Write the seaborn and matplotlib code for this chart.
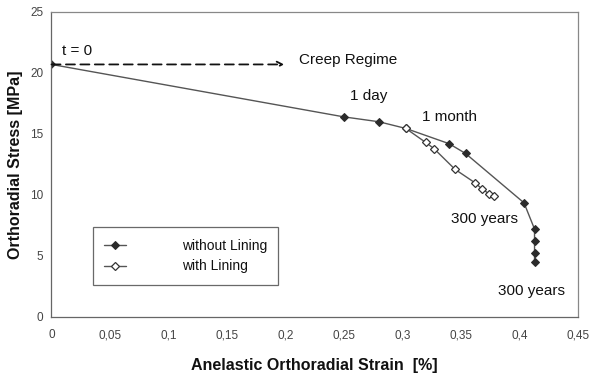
import matplotlib
matplotlib.use("Agg")
import matplotlib.pyplot as plt
import seaborn as sns
import pandas as pd

# data
x_without = [0.0, 0.250, 0.280, 0.303, 0.340, 0.354, 0.404, 0.413, 0.413, 0.413, 0.413]
y_without = [20.7, 16.4, 16.0, 15.45, 14.2, 13.4, 9.35, 7.2, 6.2, 5.2, 4.5]
x_with = [0.303, 0.320, 0.327, 0.345, 0.362, 0.368, 0.374, 0.378]
y_with = [15.45, 14.3, 13.8, 12.1, 11.0, 10.5, 10.1, 9.9]
x_ticks = [0, 0.05, 0.1, 0.15, 0.2, 0.25, 0.3, 0.35, 0.4, 0.45]
x_tick_labels = ["0", "0,05", "0,1", "0,15", "0,2", "0,25", "0,3", "0,35", "0,4", "0,45"]
y_ticks = [0, 5, 10, 15, 20, 25]
series_names = ["without Lining", "with Lining"]

sns.set_style("white")
plt.rcParams['font.family'] = ['Liberation Sans', 'DejaVu Sans']

fig = plt.figure(figsize=(5.89, 3.75), dpi=100)
ax = fig.add_axes([0.0874, 0.155, 0.8936, 0.813])

df1 = pd.DataFrame({"x": x_without, "y": y_without})
df2 = pd.DataFrame({"x": x_with, "y": y_with})

sns.lineplot(data=df1, x="x", y="y", sort=False, estimator=None, ax=ax,
             color="#555555", linewidth=1.0, marker="D", markersize=4,
             markerfacecolor="#2b2b2b", markeredgecolor="#2b2b2b",
             label=series_names[0])
sns.lineplot(data=df2, x="x", y="y", sort=False, estimator=None, ax=ax,
             color="#555555", linewidth=1.0, marker="D", markersize=4.5,
             markerfacecolor="white", markeredgecolor="#333333",
             markeredgewidth=0.9, label=series_names[1])

ax.set_xlim(0, 0.45)
ax.set_ylim(0, 25)
ax.set_xticks(x_ticks)
ax.set_xticklabels(x_tick_labels)
ax.set_yticks(y_ticks)
ax.tick_params(axis='both', direction='out', length=3, width=0.8, color="#777777",
               labelsize=8.5, labelcolor="#444444", pad=3)
ax.tick_params(axis='x', pad=6)
for s in ax.spines.values():
    s.set_color("#888888")
    s.set_linewidth(0.9)
ax.spines['left'].set_color("#666666")
ax.spines['bottom'].set_color("#666666")

ax.set_xlabel("Anelastic Orthoradial Strain  [%]", fontsize=11.5, fontweight='bold',
              color="#111111", labelpad=12)
ax.set_ylabel("Orthoradial Stress [MPa]", fontsize=11.5, fontweight='bold',
              color="#111111", labelpad=5)

# annotations
ax.annotate("", xy=(0.199, 20.7), xytext=(0.0, 20.7),
            arrowprops=dict(arrowstyle="->", linestyle=(0, (5, 3)), color="#111111",
                            lw=1.3, shrinkA=0, shrinkB=0))
ax.text(0.009, 21.8, "t = 0", fontsize=11, va='center', ha='left', color="#111111")
ax.text(0.212, 21.1, "Creep Regime", fontsize=11, va='center', ha='left', color="#111111")
ax.text(0.255, 18.1, "1 day", fontsize=11, va='center', ha='left', color="#111111")
ax.text(0.317, 16.4, "1 month", fontsize=11, va='center', ha='left', color="#111111")
ax.text(0.342, 8.0, "300 years", fontsize=11, va='center', ha='left', color="#111111")
ax.text(0.382, 2.15, "300 years", fontsize=11, va='center', ha='left', color="#111111")

leg = ax.legend(loc='lower left', bbox_to_anchor=(0.079, 0.106), frameon=True,
                fancybox=False, shadow=False, fontsize=10, handlelength=1.6,
                handletextpad=4.0, borderpad=0.8, labelspacing=0.5,
                borderaxespad=0)
leg.get_frame().set_edgecolor("#444444")
leg.get_frame().set_linewidth(0.9)
for t in leg.get_texts():
    t.set_color("#111111")

fig.savefig("out.png", dpi=100)
